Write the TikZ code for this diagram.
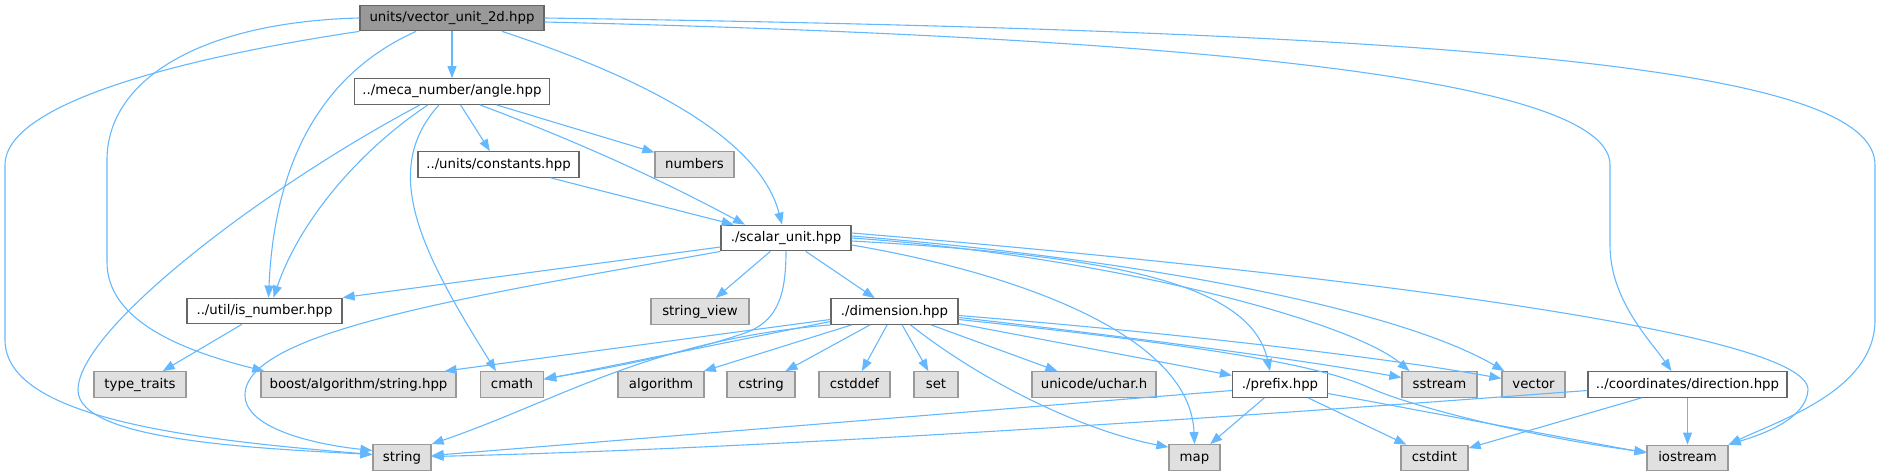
\documentclass[tikz,border=0pt]{standalone}
\usepackage{fontspec}
\setmainfont{DejaVu Sans}
\usetikzlibrary{arrows.meta}
\definecolor{edgeblue}{HTML}{63B8FF}
\definecolor{sysfill}{HTML}{E0E0E0}
\definecolor{sysdraw}{HTML}{999999}
\definecolor{hdrdraw}{HTML}{666666}

\tikzset{
  hdr/.style={draw=hdrdraw,fill=white,line width=1.3pt,inner sep=0pt,
    minimum height=25.5pt,text height=9.5pt,text depth=2.5pt,
    font=\fontsize{13.3}{16}\selectfont},
  sys/.style={hdr,draw=sysdraw,fill=sysfill},
  root/.style={hdr,fill=sysdraw},
  dep/.style={draw=edgeblue,line width=1.1pt,-{Triangle[length=12pt,width=9pt]}}
}

\begin{document}
\begin{tikzpicture}[x=1pt,y=-1pt]
    \useasboundingbox (0,0) rectangle (1880,476);

    \node[root,minimum width=184pt] (vec) at (452,18) {units/vector\_unit\_2d.hpp};

    \foreach \n/\x/\y/\w/\t in {angle/452/91.5/195/{../meca\_number/angle.hpp},
      consts/498.5/164.5/161/{../units/constants.hpp},
      scalar/786/238/130/{./scalar\_unit.hpp},
      isnum/264.5/311/155/{../util/is\_number.hpp},
      dim/894.5/311.5/127/{./dimension.hpp},
      prefix/1280/384.5/95/{./prefix.hpp},
      direction/1687.5/384.5/199/{../coordinates/direction.hpp}} {
      \node[hdr,minimum width=\w pt] (\n) at (\x,\y) {\t};
    }

    \foreach \n/\x/\y/\w/\t in {numbers/694.5/164.5/79/{numbers},
      strview/700/311.5/98/{string\_view},
      typetr/140/384.5/92/{type\_traits},
      boost/358.5/384.5/195/{boost/algorithm/string.hpp},
      cmath/512/384.5/63/{cmath},
      algo/661/384.5/86/{algorithm},
      cstring/761/384.5/68/{cstring},
      cstddef/854.5/384.5/71/{cstddef},
      set/936/384.5/44/{set},
      uchar/1094/384.5/124/{unicode/uchar.h},
      sstream/1439.5/384.5/75/{sstream},
      vector/1533.5/384.5/63/{vector},
      string/402/457.5/58/{string},
      map/1194.5/457.5/51/{map},
      cstdint/1434.5/458/67/{cstdint},
      iostream/1687.5/458/81/{iostream}} {
      \node[sys,minimum width=\w pt] (\n) at (\x,\y) {\t};
    }

    \begin{scope}[dep]
        \path
        (vec) edge (angle)
        (angle) edge (consts)
        (angle) edge (numbers)
        (consts) edge (scalar)
        (isnum) edge (typetr)
        (scalar) edge (strview)
        (scalar) edge (dim)
        (dim) edge (algo)
        (dim) edge (cstring)
        (dim) edge (cstddef)
        (dim) edge (set)
        (dim) edge (uchar)
        (dim) edge (prefix)
        (prefix) edge (map)
        (prefix) edge (cstdint)
        (direction) edge (cstdint)
        (direction) edge (iostream);
        \path
        ([yshift=-9pt]scalar.west) edge (isnum.north east)
        ([yshift=-8pt]dim.west) edge ([xshift=-12pt]boost.north east)
        ([yshift=-10pt]dim.west) edge ([yshift=5pt]cmath.east)
        ([yshift=-6pt]prefix.west) edge ([yshift=2pt]string.east)
        ([yshift=-9pt]prefix.east) edge ([yshift=5pt]iostream.west);

        \draw (vec.south west) .. controls (200,55) and (5,100) .. (5,165) -- (5,340)
          .. controls (5,420) and (200,440) .. ([yshift=3pt]string.west);
        \draw (vec.west) .. controls (200,22) and (107,80) .. (107,160) -- (107,262)
          .. controls (107,320) and (180,350) .. ([xshift=4pt]boost.north west);
        \draw ([xshift=-36pt]vec.south) .. controls (330,70) and (275,150) .. ([xshift=4pt]isnum.north);
        \draw ([xshift=50pt]vec.south) .. controls (650,80) and (760,140) .. ([xshift=-4pt]scalar.north);
        \draw (vec.east) .. controls (1500,32) and (1875,70) .. (1875,165) -- (1875,320)
          .. controls (1875,390) and (1780,420) .. (iostream.north east);
        \draw ([yshift=-4pt]vec.east) .. controls (1300,40) and (1610,90) .. (1610,165) -- (1610,245)
          .. controls (1610,300) and (1650,340) .. ([xshift=-16pt]direction.north);

        \draw ([xshift=28pt]angle.south) .. controls (600,150) and (680,190) .. ([xshift=-41pt]scalar.north);
        \draw ([xshift=-13pt]angle.south) .. controls (380,170) and (420,250) .. ([xshift=-16pt]cmath.north);
        \draw ([xshift=-24pt]angle.south) .. controls (360,150) and (300,220) .. ([xshift=9pt]isnum.north);
        \draw ([xshift=-32pt]angle.south) .. controls (260,190) and (78,330) .. (78,390)
          .. controls (78,440) and (250,448) .. ([yshift=3pt]string.west);

        \draw (scalar.south west) .. controls (480,295) and (245,330) .. (245,395)
          .. controls (245,430) and (320,445) .. ([yshift=7pt]string.west);
        \draw (scalar.south) .. controls (786,300) and (775,322) .. (745,333)
          .. controls (680,355) and (600,370) .. ([yshift=6pt]cmath.east);
        \draw ([yshift=-7pt]scalar.east) .. controls (1000,270) and (1190,330) .. (map.north);
        \draw ([yshift=-3pt]scalar.east) .. controls (1100,255) and (1250,280) .. ([xshift=-10pt]prefix.north);
        \draw (scalar.east) .. controls (1100,255) and (1350,320) .. ([xshift=-30pt]sstream.north);
        \draw ([yshift=2pt]scalar.east) .. controls (1150,260) and (1400,310) .. ([xshift=3pt]vector.north west);
        \draw ([yshift=5pt]scalar.east) .. controls (1300,270) and (1810,330) .. (1808,390)
          .. controls (1806,420) and (1760,435) .. (iostream.north east);

        \draw (dim.south west) .. controls (650,340) and (560,400) .. (string.north east);
        \draw ([xshift=16pt]dim.south) .. controls (980,380) and (1080,430) .. ([yshift=-3pt]map.north west);
        \draw ([yshift=-4pt]dim.east) .. controls (1200,335) and (1400,360) .. ([yshift=6pt]vector.west);
        \draw ([yshift=-6pt]dim.east) .. controls (1200,345) and (1330,365) .. ([yshift=7pt]sstream.west);
        \draw ([yshift=-8pt]dim.east) .. controls (1250,350) and (1330,370) .. (1370,388)
          .. controls (1420,410) and (1550,440) .. ([yshift=6pt]iostream.west);

        \draw ([yshift=-6pt]direction.west) .. controls (1300,412) and (800,448) .. ([yshift=1pt]string.east);
    \end{scope}
\end{tikzpicture}
\end{document}
